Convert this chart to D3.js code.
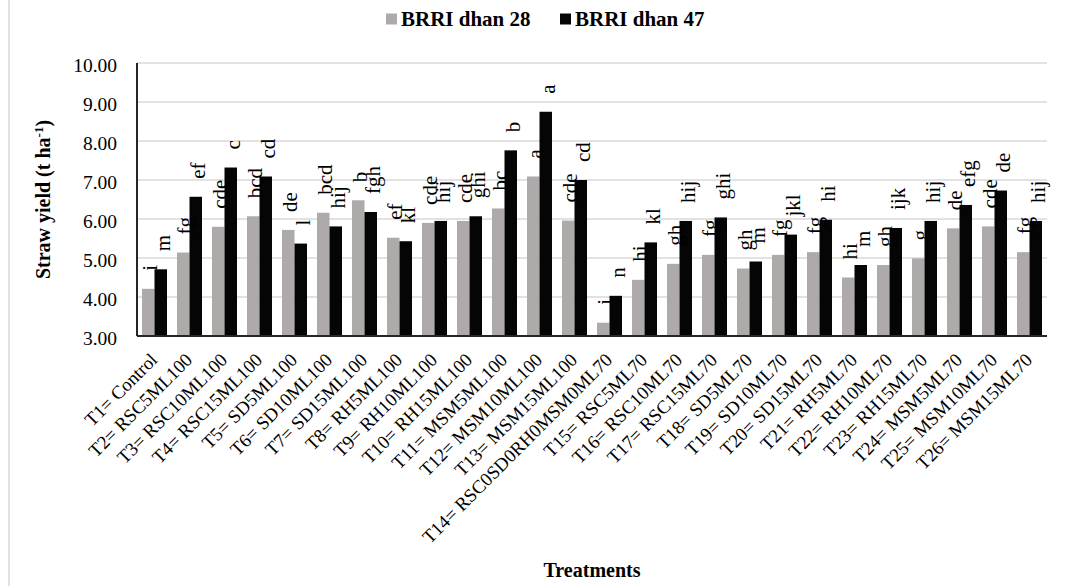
<!DOCTYPE html>
<html>
<head>
<meta charset="utf-8">
<script src="https://cdn.jsdelivr.net/npm/d3@7"></script>
<style>
  html, body { margin: 0; padding: 0; background: #fff; }
  svg { display: block; }
  text { font-family: "Liberation Serif", "Times New Roman", serif; fill: #000; }
</style>
</head>
<body>
<div id="chart"></div>
<script>
// Straw yield of two rice varieties under 26 treatments
const treatments = [
  "T1= Control", "T2= RSC5ML100", "T3= RSC10ML100", "T4= RSC15ML100",
  "T5= SD5ML100", "T6= SD10ML100", "T7= SD15ML100", "T8= RH5ML100",
  "T9= RH10ML100", "T10= RH15ML100", "T11= MSM5ML100", "T12= MSM10ML100",
  "T13= MSM15ML100", "T14= RSC0SD0RH0MSM0ML70", "T15= RSC5ML70", "T16= RSC10ML70",
  "T17= RSC15ML70", "T18= SD5ML70", "T19= SD10ML70", "T20= SD15ML70",
  "T21= RH5ML70", "T22= RH10ML70", "T23= RH15ML70", "T24= MSM5ML70",
  "T25= MSM10ML70", "T26= MSM15ML70"
];
const seriesNames = ["BRRI dhan 28", "BRRI dhan 47"];
const dhan28 = [4.21, 5.14, 5.80, 6.07, 5.72, 6.16, 6.48, 5.52, 5.90, 5.95, 6.27, 7.09, 5.96,
                3.34, 4.44, 4.85, 5.08, 4.73, 5.08, 5.15, 4.50, 4.82, 4.99, 5.76, 5.81, 5.15];
const dhan47 = [4.71, 6.57, 7.32, 7.09, 5.37, 5.81, 6.18, 5.43, 5.95, 6.07, 7.76, 8.75, 7.00,
                4.03, 5.40, 5.95, 6.04, 4.91, 5.60, 5.98, 4.82, 5.77, 5.95, 6.36, 6.73, 5.95];
const letters28 = ["i", "fg", "cde", "bcd", "de", "bcd", "b", "ef", "cde", "cde", "bc", "a", "cde",
                   "i", "hi", "gh", "fg", "gh", "fg", "fg", "hi", "gh", "g", "de", "cde", "fg"];
const letters47 = ["m", "ef", "c", "cd", "l", "hij", "fgh", "kl", "hij", "ghi", "b", "a", "cd",
                   "n", "kl", "hij", "ghi", "m", "jkl", "hi", "m", "ijk", "hij", "efg", "de", "hij"];
const yTicks = [3, 4, 5, 6, 7, 8, 9, 10];
const colors = ["#aeaaaa", "#050505"];

const W = 1068, H = 586;
const plot = { left: 137, right: 1047, top: 63, bottom: 336 };

const svg = d3.select("#chart").append("svg")
  .attr("width", W).attr("height", H);

// outer chart-area edge
svg.append("line")
  .attr("x1", 9).attr("x2", 9).attr("y1", 0).attr("y2", H)
  .attr("stroke", "#d9d9d9").attr("stroke-width", 1.5);

const x0 = d3.scaleBand().domain(treatments).range([plot.left, plot.right]).padding(0);
const x1 = d3.scaleBand().domain(seriesNames)
  .range([5, x0.bandwidth() - 5]).padding(0);
const y = d3.scaleLinear().domain([3, 10]).range([plot.bottom, plot.top]);

// gridlines
svg.append("g").selectAll("line").data(yTicks.filter(d => d > 3)).join("line")
  .attr("x1", plot.left).attr("x2", plot.right)
  .attr("y1", d => y(d)).attr("y2", d => y(d))
  .attr("stroke", "#d9d9d9").attr("stroke-width", 1.5);

// y axis labels
const yAxis = d3.axisLeft(y).tickValues(yTicks).tickFormat(d3.format(".2f")).tickSize(0).tickPadding(20);
const gy = svg.append("g").attr("transform", `translate(${plot.left},0)`).call(yAxis);
gy.select(".domain").remove();
gy.selectAll("text")
  .attr("dy", "0.45em")
  .style("font-family", "Liberation Serif")
  .style("font-size", "19.5px")
  .attr("fill", "#000");

// bars
const rows = treatments.map((t, i) => ({
  t,
  vals: [
    { s: seriesNames[0], v: dhan28[i], lab: letters28[i], c: colors[0] },
    { s: seriesNames[1], v: dhan47[i], lab: letters47[i], c: colors[1] }
  ]
}));

const groups = svg.append("g").selectAll("g").data(rows).join("g")
  .attr("transform", d => `translate(${x0(d.t)},0)`);

groups.selectAll("rect").data(d => d.vals).join("rect")
  .attr("x", d => x1(d.s))
  .attr("width", x1.bandwidth())
  .attr("y", d => y(d.v))
  .attr("height", d => y(3) - y(d.v))
  .attr("fill", d => d.c);

// significance letters above bars
groups.selectAll("text.lab").data(d => d.vals).join("text")
  .attr("class", "lab")
  .attr("transform", d => `translate(${x1(d.s) + x1.bandwidth() / 2 + 2},${y(d.v) - 18}) rotate(-90)`)
  .attr("dominant-baseline", "central")
  .attr("text-anchor", "start")
  .style("font-size", "21px")
  .text(d => d.lab);

// axes lines
svg.append("line")
  .attr("x1", plot.left).attr("x2", plot.left)
  .attr("y1", plot.top).attr("y2", plot.bottom)
  .attr("stroke", "#262626").attr("stroke-width", 2);
svg.append("line")
  .attr("x1", plot.left).attr("x2", plot.right)
  .attr("y1", plot.bottom).attr("y2", plot.bottom)
  .attr("stroke", "#262626").attr("stroke-width", 2);

// category labels
svg.append("g").selectAll("text").data(treatments).join("text")
  .attr("transform", d => `translate(${x0(d) + x0.bandwidth() / 2 + 4},${plot.bottom + 25}) rotate(-45)`)
  .attr("text-anchor", "end")
  .style("font-size", "18.8px")
  .text(d => d);

// axis titles
svg.append("text")
  .attr("x", (plot.left + plot.right) / 2).attr("y", 577)
  .attr("text-anchor", "middle")
  .style("font-size", "20px").style("font-weight", "bold")
  .text("Treatments");

const yt = svg.append("text")
  .attr("transform", `translate(50,${(plot.top + plot.bottom) / 2}) rotate(-90)`)
  .attr("text-anchor", "middle")
  .style("font-size", "20px").style("font-weight", "bold");
yt.append("tspan").text("Straw yield (t ha");
yt.append("tspan").attr("dy", -7).style("font-size", "13px").text("-1");
yt.append("tspan").attr("dy", 7).text(")");

// legend
const legend = svg.append("g").selectAll("g").data(seriesNames).join("g")
  .attr("transform", (d, i) => `translate(${i === 0 ? 386 : 560},0)`);
legend.append("rect")
  .attr("x", 0).attr("y", 13.5).attr("width", 11).attr("height", 11)
  .attr("fill", (d, i) => colors[i]);
legend.append("text")
  .attr("x", 15).attr("y", 26)
  .style("font-size", "21px").style("font-weight", "bold")
  .text(d => d);
</script>
</body>
</html>
